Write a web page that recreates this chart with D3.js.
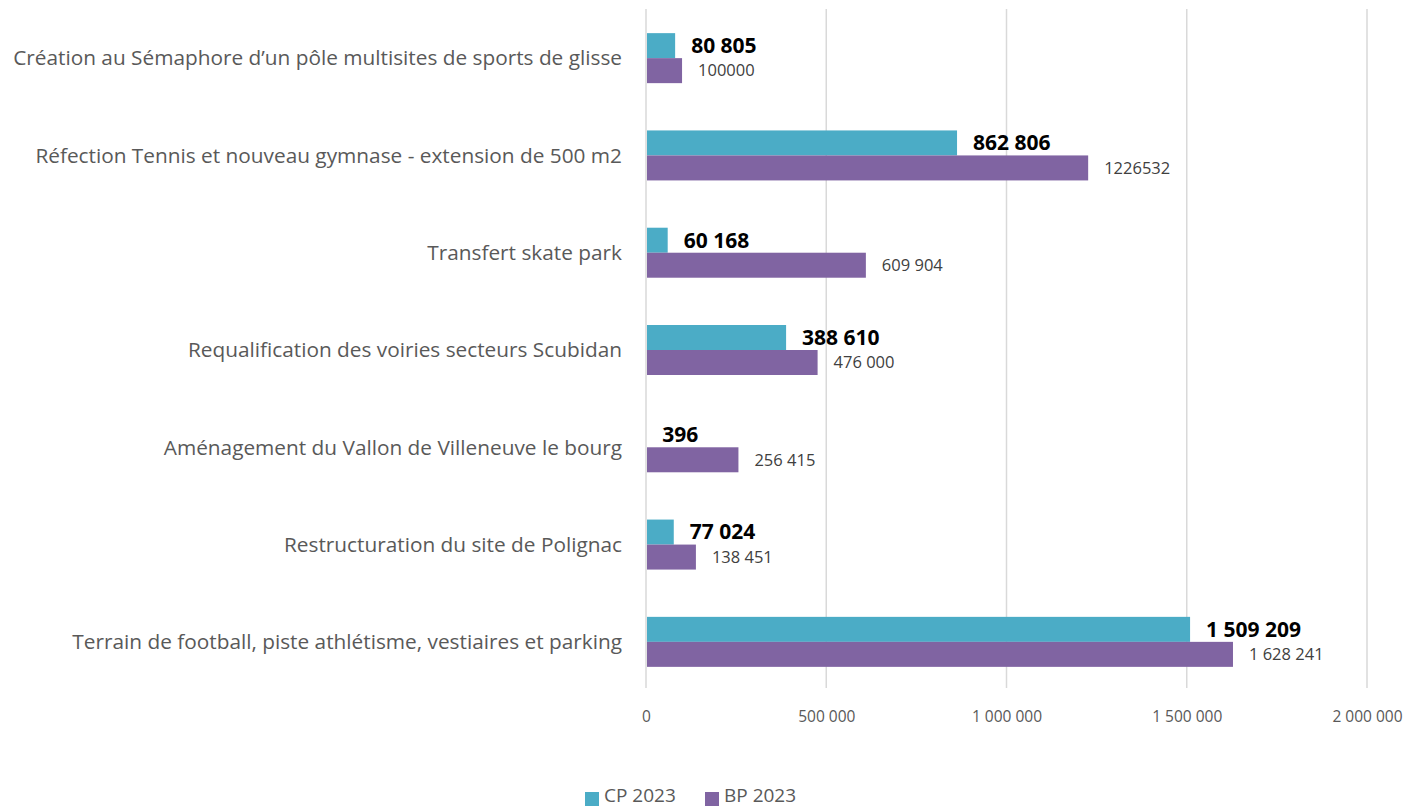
<!DOCTYPE html>
<html>
<head>
<meta charset="utf-8">
<script src="https://cdn.jsdelivr.net/npm/d3@7"></script>
<style>
  body { margin: 0; background: #fff; }
  svg { display: block; font-family: "Open Sans", sans-serif; }
</style>
</head>
<body>
<svg class="chart" width="1421" height="809"></svg>
<script>
const categories = [
  "Création au Sémaphore d’un pôle multisites de sports de glisse",
  "Réfection Tennis et nouveau gymnase - extension de 500 m2",
  "Transfert skate park",
  "Requalification des voiries secteurs Scubidan",
  "Aménagement du Vallon de Villeneuve le bourg",
  "Restructuration du site de Polignac",
  "Terrain de football, piste athlétisme, vestiaires et parking"
];
const cpValues = [80805, 862806, 60168, 388610, 396, 77024, 1509209];
const bpValues = [100000, 1226532, 609904, 476000, 256415, 138451, 1628241];
const cpLabels = ["80 805", "862 806", "60 168", "388 610", "396", "77 024", "1 509 209"];
const bpLabels = ["100000", "1226532", "609 904", "476 000", "256 415", "138 451", "1 628 241"];
const tickValues = [0, 500000, 1000000, 1500000, 2000000];
const tickLabels = ["0", "500 000", "1 000 000", "1 500 000", "2 000 000"];
const seriesNames = ["CP 2023", "BP 2023"];
const colors = ["#4BACC6", "#8064A2"];

const svg = d3.select(".chart");

/*
      Scales
*/
const x = d3.scaleLinear().domain([0, 2000000]).range([646, 1367]);
const y = d3.scaleBand().domain(categories).range([9.5, 690.5]);
const sub = d3.scaleBand().domain(seriesNames).range([y.bandwidth() / 2 - 25, y.bandwidth() / 2 + 25]);

/*
      Grid
*/
svg.append("g")
  .selectAll("line")
  .data(tickValues)
  .join("line")
  .attr("x1", (d) => x(d))
  .attr("x2", (d) => x(d))
  .attr("y1", 9)
  .attr("y2", 688)
  .attr("stroke", "#d9d9d9")
  .attr("stroke-width", 1.5);

const axis = d3.axisBottom(x).tickValues(tickValues).tickFormat((d, i) => tickLabels[i]).tickSize(0).tickPadding(0);
const axisG = svg.append("g").attr("transform", "translate(0,722)").call(axis);
axisG.select(".domain").remove();
axisG.selectAll("text").attr("font-size", 15.5).attr("fill", "#595959").attr("font-family", "Open Sans, sans-serif").attr("dy", 0);

/*
      Bars
*/
const rows = categories.map((c, i) => ({
  cat: c,
  vals: [
    { s: seriesNames[0], v: cpValues[i], label: cpLabels[i] },
    { s: seriesNames[1], v: bpValues[i], label: bpLabels[i] }
  ]
}));

const group = svg.append("g")
  .selectAll("g")
  .data(rows)
  .join("g")
  .attr("transform", (d) => `translate(0,${y(d.cat)})`);

group.selectAll("rect")
  .data((d) => d.vals)
  .join("rect")
  .attr("x", x(0) + 1)
  .attr("y", (d) => sub(d.s))
  .attr("width", (d) => Math.max(0, x(d.v) - x(0) - 1))
  .attr("height", sub.bandwidth())
  .attr("fill", (d, i) => colors[i]);

group.selectAll("text.val")
  .data((d) => d.vals)
  .join("text")
  .attr("class", "val")
  .attr("x", (d) => x(d.v) + 16)
  .attr("y", (d) => sub(d.s) + sub.bandwidth() / 2)
  .attr("dy", "0.35em")
  .attr("font-size", (d, i) => (i === 0 ? 21 : 16.5))
  .attr("font-weight", (d, i) => (i === 0 ? "bold" : "normal"))
  .attr("fill", (d, i) => (i === 0 ? "#000" : "#404040"))
  .text((d) => d.label);

/*
      Category labels
*/
svg.append("g")
  .selectAll("text")
  .data(categories)
  .join("text")
  .attr("x", 622)
  .attr("y", (d) => y(d) + y.bandwidth() / 2)
  .attr("dy", "0.35em")
  .attr("text-anchor", "end")
  .attr("font-size", 20.8)
  .attr("fill", "#595959")
  .text((d) => d);

/*
      Legend
*/
const legend = svg.append("g").attr("transform", "translate(585,795)");
const legendX = [0, 120];
const item = legend.selectAll("g")
  .data(seriesNames)
  .join("g")
  .attr("transform", (d, i) => `translate(${legendX[i]},0)`);
item.append("rect").attr("x", 0).attr("y", -3).attr("width", 14).attr("height", 14).attr("fill", (d, i) => colors[i]);
item.append("text")
  .attr("x", 19)
  .attr("y", 0)
  .attr("dy", "0.35em")
  .attr("font-size", 19)
  .attr("fill", "#595959")
  .text((d) => d);
</script>
</body>
</html>
